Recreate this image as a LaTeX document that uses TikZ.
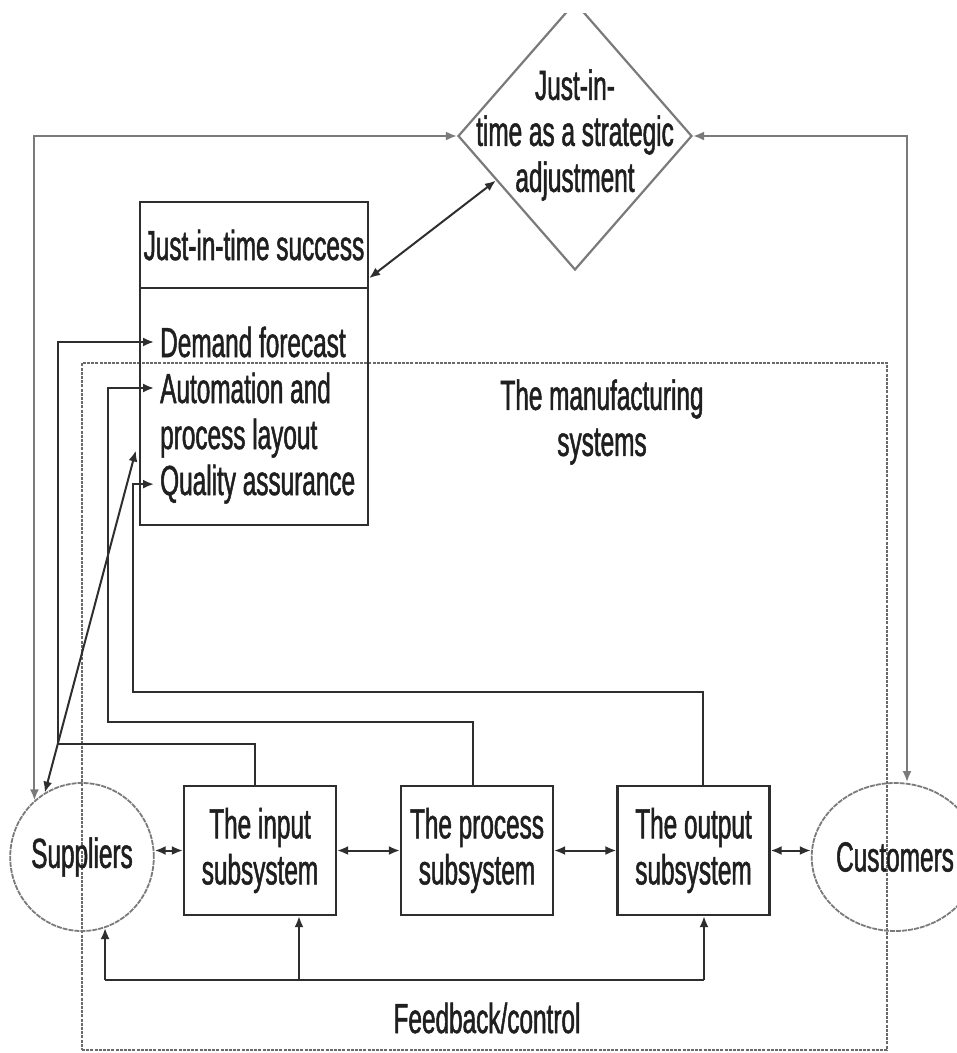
\documentclass[tikz,border=0pt]{standalone}
\usepackage{fontspec}
\setmainfont{Liberation Sans}[FakeStretch=0.58,FakeBold=1.2]
\usetikzlibrary{shapes.geometric,arrows.meta,calc}
\definecolor{linec}{HTML}{2E2E2E}
\definecolor{graylc}{HTML}{7A7A7A}
\definecolor{dotc}{HTML}{6A6A6A}
\begin{document}
\begin{tikzpicture}[x=1pt,y=-1pt,
  txt/.style={font=\fontsize{42}{46}\selectfont, inner sep=0pt, text=black!88},
  sbox/.style={txt, draw=linec, line width=2.3pt, minimum width=152pt, minimum height=129pt, align=center},
  ellip/.style={txt, ellipse, draw=graylc, line width=1.8pt, dash pattern=on 5pt off 1pt, minimum width=138pt, minimum height=148pt},
  mbox/.style={draw=dotc, line width=1.5pt, dash pattern=on 3pt off 1.2pt},
  tip/.tip={Latex[length=11pt,width=9pt]},
  arr/.style={draw=linec, line width=2pt, -tip},
  darr/.style={draw=linec, line width=2pt, tip-tip},
  plain/.style={draw=linec, line width=2pt}]
\useasboundingbox (0,0) rectangle (957,1053);
\clip (0,0) rectangle (957,1053);

% manufacturing system boundary
\node[mbox, minimum width=805pt, minimum height=687pt, inner sep=0pt] (mfg) at (484.5,706.5) {};
\node[txt, align=center] (mfglabel) at (602,422) {The manufacturing\\systems};

% strategic adjustment diamond (top is cut off as in the source)
\begin{scope}
\clip (0,13) rectangle (957,1053);
\node[diamond, draw=graylc, line width=2.2pt, minimum width=234pt, minimum height=268pt, inner sep=0pt] (dia) at (575,136) {};
\end{scope}
\node[txt, align=center] (diatext) at (575,135) {Just-in-\\time as a strategic\\adjustment};

% JIT success box
\node[txt, draw=linec, line width=2.3pt, minimum width=228pt, minimum height=86pt] (jitt) at (254,245) {Just-in-time success};
\node[draw=linec, line width=2.3pt, minimum width=228pt, minimum height=237pt, inner sep=0pt] (jitl) at (254,406.5) {};
\node[txt, anchor=base west] (dem) at (160,357) {Demand forecast};
\node[txt, anchor=base west] (aut) at (160,403) {Automation and};
\node[txt, anchor=base west] (lay) at (160,449) {process layout};
\node[txt, anchor=base west] (qua) at (160,495) {Quality assurance};

% suppliers / customers
\node[ellip] (sup) at (82,857) {Suppliers};
\node[ellip] (cus) at (895,857) {Customers};

% subsystems
\node[sbox] (inp) at (260,850.5) {The input\\subsystem};
\node[sbox] (pro) at (477,850.5) {The process\\subsystem};
\node[sbox] (out) at (693.5,850.5) {The output\\subsystem};

\node[txt] (fbl) at (487,1018) {Feedback/control};

% connectors to diamond
\draw[darr, draw=graylc] (dia.west) -| (sup.130);
\draw[darr, draw=graylc] (dia.east) -| ([xshift=12pt]cus.north);
\draw[darr] ([yshift=11pt]jitt.south east) -- ($(dia.west)!0.33!(dia.south)$);

% suppliers to JIT list
\draw[darr] (sup.120) -- ([xshift=-3pt,yshift=-44pt]jitl.west);

% subsystems to JIT items
\coordinate (b1) at (58,744);
\coordinate (b2) at (108,722);
\coordinate (b3) at (133,692);
\draw[arr] ([xshift=-5pt]inp.north) |- (b1) |- ([xshift=-6pt]dem.west);
\draw[arr] ([xshift=-4pt]pro.north) |- (b2) |- ([xshift=-6pt]aut.west);
\draw[arr] ([xshift=9pt]out.north) |- (b3) |- ([xshift=-6pt]qua.west);

% flow between subsystems
\draw[darr] (inp.west -| sup.east) -- (inp.west);
\draw[darr] (inp.east) -- (pro.west);
\draw[darr] (pro.east) -- (out.west);
\draw[darr] (out.east) -- (out.east -| cus.west);

% feedback / control
\coordinate (fR) at (704,980);
\draw[plain] (sup.-72 |- fR) -- (fR);
\draw[arr] (sup.-72 |- fR) -- (sup.-72);
\draw[arr] ([xshift=39pt]inp.south |- fR) -- ([xshift=39pt]inp.south);
\draw[arr] (fR) -- (fR |- out.south);
\end{tikzpicture}
\end{document}
